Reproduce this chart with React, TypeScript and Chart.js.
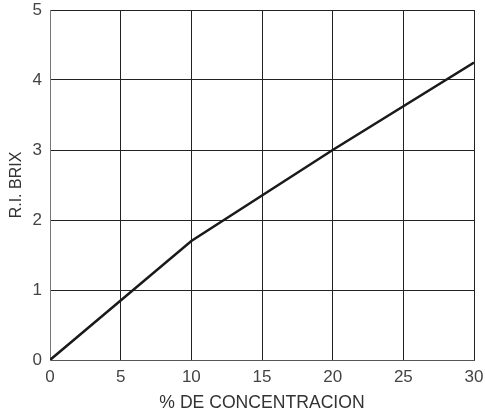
import React, { useEffect, useRef } from "react";
import { Chart, registerables } from "chart.js";

Chart.register(...registerables);

const concentration = [0, 10, 20, 30];
const brix = [0, 1.7, 3.0, 4.25];
const xTitle = "% DE CONCENTRACION";
const yTitle = "R.I. BRIX";

function clearPad(s: any) {
  s.paddingLeft = 0;
  s.paddingRight = 0;
  s.paddingTop = 0;
  s.paddingBottom = 0;
}

export default function App() {
  const ref = useRef<HTMLCanvasElement | null>(null);
  useEffect(() => {
    if (!ref.current) return;
    const font = { family: "'Liberation Sans', Arial, sans-serif", size: 17 };
    const chart = new Chart(ref.current, {
      type: "line",
      data: {
        datasets: [
          {
            data: concentration.map((x, i) => ({ x, y: brix[i] })),
            borderColor: "#1a1a1a",
            borderWidth: 2.5,
            pointRadius: 0,
            tension: 0,
            fill: false,
          },
        ],
      },
      options: {
        animation: false,
        responsive: false,
        layout: { autoPadding: false, padding: { top: 10, right: 11, left: 0, bottom: 0 } },
        plugins: { legend: { display: false }, tooltip: { enabled: false } },
        scales: {
          x: {
            type: "linear",
            min: 0,
            max: 30,
            afterFit: (s: any) => {
              s.height = 58;
              clearPad(s);
            },
            ticks: { stepSize: 5, color: "#444", font, padding: 7 },
            grid: { color: "#222", lineWidth: 1, drawTicks: false },
            border: { color: "#555", width: 1 },
            title: { display: true, text: xTitle, color: "#333", font: { ...font, size: 17.6 }, padding: { top: 0, bottom: 4 } },
          },
          y: {
            type: "linear",
            min: 0,
            max: 5,
            afterFit: (s: any) => {
              s.width = 50;
              clearPad(s);
            },
            ticks: { stepSize: 1, color: "#444", font, padding: 8 },
            grid: { color: "#222", lineWidth: 1, drawTicks: false },
            border: { color: "#777", width: 1 },
            title: { display: true, text: yTitle, color: "#333", font: { ...font, size: 16 }, padding: { top: 7, bottom: 0 } },
          },
        },
      },
    });
    return () => chart.destroy();
  }, []);
  return (
    <div style={{ position: "fixed", left: 0, top: 0, width: 485, height: 418, background: "#fff" }}>
      <canvas ref={ref} width={485} height={418} style={{ display: "block", width: 485, height: 418 }} />
    </div>
  );
}
